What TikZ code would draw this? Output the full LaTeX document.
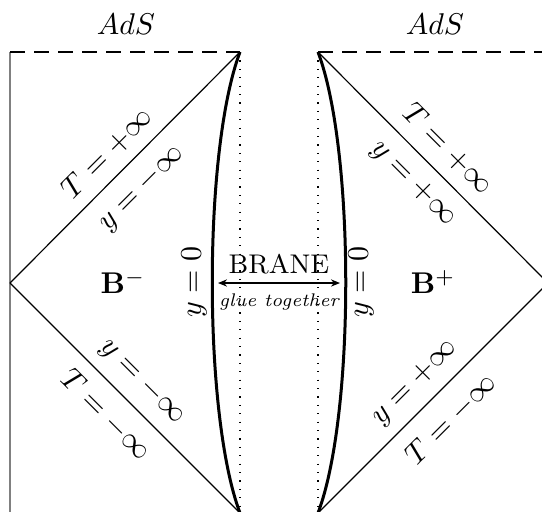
\documentclass[tikz,border=0pt]{standalone}
\usetikzlibrary{arrows.meta}
\begin{document}
\begin{tikzpicture}[x=0.3333pt,y=-0.3333pt,
  diag/.style={line width=0.4pt},
  brane/.style={line width=1pt},
  bndry/.style={dash pattern=on 5pt off 3pt, line width=0.4pt},
  dotline/.style={dash pattern=on 0.4pt off 2.4pt, line width=0.4pt},
  lbl/.style={inner sep=0pt}]
\useasboundingbox (0,0) rectangle (542,511);
\clip (0,0) rectangle (542,511);
% key points
\coordinate (LT) at (240,52);
\coordinate (LB) at (240,513);
\coordinate (LV) at (10,283);
\coordinate (LC) at (10,52);
\coordinate (LD) at (10,520);
\coordinate (RT) at (318,52);
\coordinate (RB) at (318,513);
\coordinate (RV) at (548,283);
\coordinate (RE) at (545,52);
% boundaries
\draw[gray, line width=0.7pt] (LC) -- (LD);
\draw[bndry] (LC) -- (LT);
\draw[bndry] (RT) -- (RE);
% diagonals
\draw[diag] (LV) -- (LT);
\draw[diag] (LV) -- (LB);
\draw[diag] (RV) -- (RT);
\draw[diag] (RV) -- (RB);
% dotted lines
\draw[dotline] (LT) -- (LB);
\draw[dotline] (RT) -- (RB);
% branes
\draw[brane] (LT) .. controls (203,150) and (203,415) .. (LB);
\draw[brane] (RT) .. controls (355,150) and (355,415) .. (RB);
% labels
\node (adsL) at (126,24) {$AdS$};
\node (adsR) at (435,24) {$AdS$};
\node[lbl, rotate=45] (tul) at (107,153) {$T=+\infty$};
\node[lbl, rotate=45] (yul) at (142,189) {$y=-\infty$};
\node[lbl, rotate=-45] (yll) at (142,382) {$y=-\infty$};
\node[lbl, rotate=-45] (tll) at (106,415) {$T=-\infty$};
\node[lbl, rotate=-45] (tur) at (448,149) {$T=+\infty$};
\node[lbl, rotate=-45] (yur) at (413,184) {$y=+\infty$};
\node[lbl, rotate=45] (ylr) at (415,383) {$y=+\infty$};
\node[lbl, rotate=45] (tlr) at (451,419) {$T=-\infty$};
\node[lbl, rotate=90] (y0L) at (194,282) {$y=0$};
\node[lbl, rotate=90] (y0R) at (361,282) {$y=0$};
\node (bm) at (123,282) {$\mathbf{B}^-$};
\node (bp) at (433,282) {$\mathbf{B}^+$};
\node[inner sep=1pt] (brn) at (279,264) {\small BRANE};
\node[inner sep=1pt] (glue) at (279,302) {\fontsize{6.1}{7}\selectfont\itshape glue together};
\coordinate (aL) at (218,283);
\coordinate (aR) at (340,283);
\draw[{Stealth[length=3pt,width=2.4pt]}-{Stealth[length=3pt,width=2.4pt]}, line width=0.4pt] (aL) -- (aR);
\end{tikzpicture}
\end{document}
